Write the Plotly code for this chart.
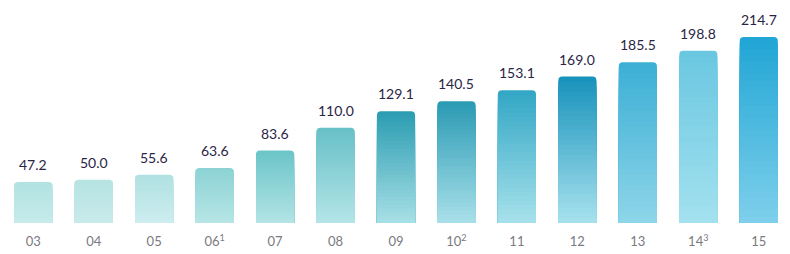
import plotly.graph_objects as go

categories = ["03", "04", "05", "06<sup>1</sup>", "07", "08", "09", "10<sup>2</sup>", "11", "12", "13", "14<sup>3</sup>", "15"]
values = [47.2, 50.0, 55.6, 63.6, 83.6, 110.0, 129.1, 140.5, 153.1, 169.0, 185.5, 198.8, 214.7]
value_labels = ["47.2", "50.0", "55.6", "63.6", "83.6", "110.0", "129.1", "140.5", "153.1", "169.0", "185.5", "198.8", "214.7"]
top_colors = ["#b2e2e2", "#b6e3e3", "#b0e1e2", "#8dd3d5", "#6cc5c8", "#68c1c7", "#2c9db2", "#2c9bb4", "#33a7c5", "#1993bc", "#3cafd5", "#6ac7e1", "#22a6d5"]
bottom_colors = ["#c6ebeb", "#c8eaea", "#cdedef", "#b6e5e5", "#b2e3e5", "#b3e4e7", "#a6dfe5", "#a7dfe9", "#a6e1eb", "#a5e1ed", "#8dd5e9", "#a3e1ef", "#7dcfeb"]

x_idx = list(range(len(categories)))
N_LAYERS = 30


def hex_to_rgb(h):
    h = h.lstrip("#")
    return tuple(int(h[i:i + 2], 16) for i in (0, 2, 4))


def mix(c1, c2, t):
    a, b = hex_to_rgb(c1), hex_to_rgb(c2)
    return "rgb({},{},{})".format(*[round(a[i] + (b[i] - a[i]) * t) for i in range(3)])


fig = go.Figure()
for j in range(N_LAYERS):
    frac = 1 - j / N_LAYERS
    t = j / (N_LAYERS - 1)
    fig.add_trace(go.Bar(
        x=x_idx,
        y=[v * frac for v in values],
        width=0.63,
        marker=dict(
            color=[mix(top_colors[i], bottom_colors[i], t) for i in range(len(values))],
            line=dict(width=0),
            cornerradius=4 if j == 0 else 0,
        ),
        hoverinfo="skip",
        showlegend=False,
    ))

for i, v in enumerate(values):
    fig.add_annotation(
        x=i, y=v, text=value_labels[i], showarrow=False,
        yanchor="bottom", yshift=7,
        font=dict(family="Lato", size=14, color="#2a2545"),
    )

fig.update_layout(
    width=790, height=254,
    margin=dict(l=3, r=1, t=0, b=31),
    barmode="overlay",
    plot_bgcolor="white", paper_bgcolor="white",
    xaxis=dict(
        tickmode="array", tickvals=x_idx, ticktext=categories,
        range=[-0.5, len(categories) - 0.5],
        showgrid=False, zeroline=False, showline=False, ticks="",
        ticklabelstandoff=9,
        tickfont=dict(family="Lato", size=13, color="#7a7a80"),
    ),
    yaxis=dict(range=[0, 257.4], visible=False, showgrid=False, zeroline=False),
)

fig.write_html("out.html")
